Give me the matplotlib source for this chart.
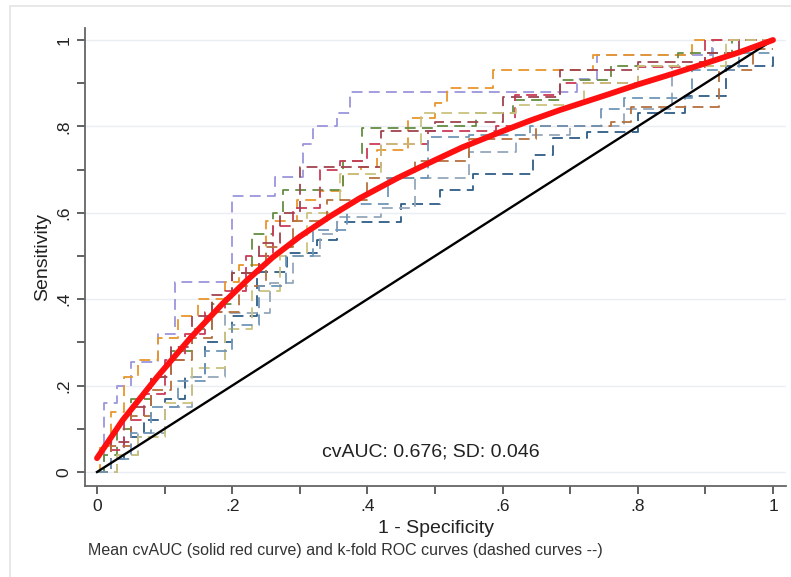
import matplotlib
matplotlib.use("Agg")
import matplotlib.pyplot as plt
from matplotlib.patches import Rectangle

plt.rcParams['font.family'] = ['Liberation Sans', 'DejaVu Sans']

# mean cvAUC curve (solid red)
mean_fpr = [0, 0.038, 0.089, 0.138, 0.186, 0.222, 0.26, 0.30, 0.345, 0.389, 0.444,
            0.50, 0.541, 0.60, 0.64, 0.685, 0.754, 0.80, 0.852, 0.90, 0.951, 1.0]
mean_tpr = [0.032, 0.12, 0.22, 0.31, 0.39, 0.444, 0.497, 0.545, 0.592, 0.634, 0.68,
            0.722, 0.752, 0.789, 0.813, 0.838, 0.873, 0.897, 0.922, 0.946, 0.972, 1.0]

# k-fold ROC curves (dashed), step corners
fold_navy_x = [0, 0.02, 0.04, 0.07, 0.10, 0.13, 0.16, 0.20, 0.237, 0.281, 0.325, 0.355, 0.45,
               0.507, 0.556, 0.645, 0.675, 0.725, 0.80, 0.87, 0.93, 1.0]
fold_navy_y = [0, 0.03, 0.08, 0.12, 0.17, 0.22, 0.30, 0.36, 0.463, 0.507, 0.537, 0.579, 0.62,
               0.653, 0.69, 0.734, 0.773, 0.787, 0.83, 0.87, 0.94, 0.97]

fold_gray_x = [0, 0.03, 0.06, 0.10, 0.14, 0.19, 0.256, 0.29, 0.33, 0.355, 0.42, 0.47, 0.55,
               0.62, 0.70, 0.78, 0.85, 0.911, 1.0]
fold_gray_y = [0, 0.04, 0.09, 0.15, 0.22, 0.368, 0.437, 0.50, 0.55, 0.59, 0.61, 0.68, 0.74,
               0.78, 0.80, 0.84, 0.94, 1.0, 1.0]

fold_lav_x = [0, 0.01, 0.03, 0.05, 0.09, 0.115, 0.20, 0.263, 0.305, 0.32, 0.355, 0.374,
              0.71, 0.74, 0.91, 1.0]
fold_lav_y = [0, 0.16, 0.20, 0.255, 0.32, 0.44, 0.64, 0.683, 0.76, 0.80, 0.83, 0.88,
              0.91, 0.965, 1.0, 1.0]

fold_orange_x = [0, 0.005, 0.02, 0.04, 0.06, 0.09, 0.12, 0.15, 0.19, 0.21, 0.25, 0.296, 0.33,
                 0.364, 0.39, 0.414, 0.46, 0.50, 0.518, 0.586, 0.734, 0.88, 1.0]
fold_orange_y = [0, 0.06, 0.14, 0.22, 0.26, 0.31, 0.36, 0.40, 0.44, 0.48, 0.58, 0.63, 0.65,
                 0.69, 0.706, 0.745, 0.82, 0.855, 0.89, 0.93, 0.965, 1.0, 1.0]

fold_green_x = [0, 0.01, 0.03, 0.05, 0.08, 0.11, 0.14, 0.17, 0.20, 0.23, 0.26, 0.275,
                0.364, 0.392, 0.50, 0.56, 0.615, 0.685, 0.76, 0.86, 0.94, 1.0]
fold_green_y = [0, 0.04, 0.10, 0.17, 0.22, 0.28, 0.33, 0.39, 0.46, 0.55, 0.60, 0.653,
                0.72, 0.796, 0.80, 0.83, 0.86, 0.907, 0.94, 0.97, 1.0, 1.0]

fold_cran_x = [0, 0.02, 0.04, 0.07, 0.10, 0.13, 0.16, 0.19, 0.22, 0.26, 0.29, 0.33, 0.36,
               0.40, 0.49, 0.59, 0.618, 0.685, 0.80, 0.90, 1.0]
fold_cran_y = [0, 0.05, 0.12, 0.18, 0.26, 0.32, 0.37, 0.42, 0.50, 0.57, 0.61, 0.70, 0.72,
               0.76, 0.79, 0.80, 0.873, 0.90, 0.937, 1.0, 1.0]

fold_maroon_x = [0, 0.02, 0.05, 0.08, 0.11, 0.14, 0.17, 0.20, 0.24, 0.27, 0.30, 0.42, 0.50,
                 0.60, 0.685, 0.80, 0.90, 0.95, 1.0]
fold_maroon_y = [0, 0.07, 0.15, 0.22, 0.29, 0.36, 0.41, 0.46, 0.53, 0.60, 0.706, 0.79, 0.81,
                 0.868, 0.93, 0.95, 0.97, 1.0, 1.0]

fold_khaki_x = [0, 0.03, 0.06, 0.10, 0.14, 0.19, 0.23, 0.27, 0.31, 0.36, 0.42, 0.48, 0.62,
                0.72, 0.80, 0.93, 1.0]
fold_khaki_y = [0, 0.04, 0.08, 0.16, 0.24, 0.33, 0.42, 0.50, 0.60, 0.69, 0.76, 0.83, 0.85,
                0.90, 0.94, 1.0, 1.0]

fold_sienna_x = [0, 0.02, 0.05, 0.08, 0.11, 0.14, 0.17, 0.21, 0.25, 0.29, 0.34, 0.40, 0.47,
                 0.55, 0.65, 0.76, 0.79, 0.92, 0.97, 1.0]
fold_sienna_y = [0, 0.06, 0.13, 0.19, 0.26, 0.31, 0.37, 0.43, 0.52, 0.58, 0.63, 0.68, 0.72,
                 0.77, 0.80, 0.81, 0.845, 0.93, 0.98, 0.98]

fold_blue_x = [0, 0.02, 0.05, 0.08, 0.12, 0.16, 0.20, 0.24, 0.28, 0.32, 0.37, 0.43, 0.49,
               0.55, 0.64, 0.745, 0.78, 0.88, 0.95, 1.0]
fold_blue_y = [0, 0.03, 0.09, 0.15, 0.21, 0.28, 0.34, 0.43, 0.50, 0.56, 0.62, 0.68, 0.775,
               0.78, 0.80, 0.84, 0.865, 0.93, 0.97, 0.97]

folds = [
    (fold_navy_x, fold_navy_y, '#2f5d87'),
    (fold_gray_x, fold_gray_y, '#93a7ba'),
    (fold_lav_x, fold_lav_y, '#9b95dc'),
    (fold_orange_x, fold_orange_y, '#e8952c'),
    (fold_green_x, fold_green_y, '#648d42'),
    (fold_cran_x, fold_cran_y, '#cc3a58'),
    (fold_maroon_x, fold_maroon_y, '#a0434f'),
    (fold_khaki_x, fold_khaki_y, '#cbc27e'),
    (fold_sienna_x, fold_sienna_y, '#b5703f'),
    (fold_blue_x, fold_blue_y, '#6f96b8'),
]

y_ticks = [0, 0.2, 0.4, 0.6, 0.8, 1.0]
tick_labels = ['0', '.2', '.4', '.6', '.8', '1']
minor_ticks = [0.1, 0.3, 0.5, 0.7, 0.9]

fig = plt.figure(figsize=(7.91, 5.77), dpi=100)
fig.patches.append(Rectangle((10 / 791, -0.05), 1.0, 1 - 6 / 577 + 0.05,
                             transform=fig.transFigure, fill=False,
                             edgecolor='#e4e4e4', linewidth=1.2))
ax = fig.add_axes([85 / 791, 1 - 486 / 577, 701 / 791, 458 / 577])

for t in y_ticks:
    ax.axhline(t, color='#eaeef2', linewidth=1.0, zorder=0)

for fx, fy, c in folds:
    ax.plot(fx, fy, drawstyle='steps-post', color=c, linewidth=1.3,
            dashes=(6, 3.5), zorder=2)

ax.plot([0, 1], [0, 1], color='black', linewidth=1.7, zorder=3)
ax.plot(mean_fpr, mean_tpr, color='#ff1010', linewidth=4.2,
        solid_capstyle='round', zorder=4)

ax.text(0.333, 0.046, 'cvAUC: 0.676; SD: 0.046', fontsize=14, ha='left', va='center',
        color='#222222')

ax.set_xlim(-12 / 676, 1 + 13 / 676)
ax.set_ylim(-14 / 432, 1 + 12 / 432)
ax.set_xticks(y_ticks)
ax.set_xticklabels(tick_labels)
ax.set_xticks(minor_ticks, minor=True)
ax.set_yticks(y_ticks)
ax.set_yticklabels(tick_labels, rotation=90, va='center')
ax.set_yticks(minor_ticks, minor=True)

for side in ['top', 'right']:
    ax.spines[side].set_visible(False)
for side in ['left', 'bottom']:
    ax.spines[side].set_color('#666666')
    ax.spines[side].set_linewidth(1.3)

ax.tick_params(which='both', direction='out', length=5.5, width=1.3, color='#555555',
               labelsize=12.5, labelcolor='#222222', pad=4)

ax.set_xlabel('1 - Specificity', fontsize=14, color='#222222', labelpad=4)
ax.set_ylabel('Sensitivity', fontsize=14, color='#222222', labelpad=4)

fig.text(88 / 791, 1 - 550 / 577, 'Mean cvAUC (solid red curve) and k-fold ROC curves (dashed curves --)',
         fontsize=11.5, ha='left', va='center', color='#333333')

fig.savefig('out.png', dpi=100)
